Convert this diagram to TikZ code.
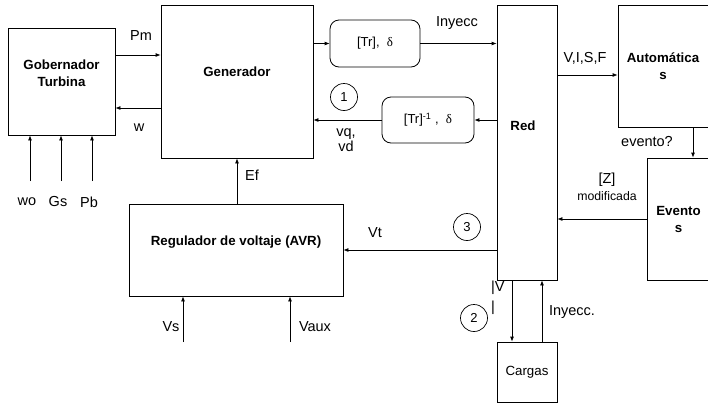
\documentclass[tikz,border=0pt]{standalone}
\usepackage{fontspec}
\setmainfont{Liberation Sans}
\newfontfamily\symbfont{Liberation Serif}
\usetikzlibrary{arrows.meta,positioning}

\tikzset{
  box/.style={draw, line width=0.8pt, inner sep=0pt},
  tbox/.style={draw, line width=0.8pt, rounded corners=9pt, inner sep=0pt},
  num/.style={draw, circle, line width=0.7pt, minimum size=27pt, inner sep=0pt,
    font=\fontsize{13}{15}\selectfont},
  arr/.style={-{Latex[length=5pt,width=4pt]}, line width=0.8pt},
  ttl/.style={font=\fontsize{13.3}{17}\selectfont\bfseries, align=center},
  lbl/.style={font=\fontsize{14.5}{15}\selectfont, inner sep=0pt, align=center}
}

\begin{document}
\begin{tikzpicture}[x=1pt, y=-1pt]
\clip (0,0) rectangle (708,405);

% bloques
\node[box, minimum width=107pt, minimum height=107pt,
  label={[ttl, yshift=8pt]center:{Gobernador\\Turbina}}] (gob) at (61.5,81.5) {};
\node[box, minimum width=152pt, minimum height=153pt,
  label={[ttl, yshift=10pt]center:Generador}] (gen) at (237,81.5) {};
\node[tbox, minimum width=90pt, minimum height=47pt,
  font=\fontsize{13}{15}\selectfont] (tr) at (375,43.5) {[Tr],~~{\symbfont δ}};
\node[tbox, minimum width=92pt, minimum height=46pt,
  font=\fontsize{13}{15}\selectfont] (tri) at (428,120) {[Tr]\textsuperscript{-1}~,~~{\symbfont δ}};
\node[box, minimum width=60pt, minimum height=275pt,
  label={[ttl, yshift=17pt, xshift=-4pt]center:Red}] (red) at (527,142.5) {};
\node[box, minimum width=94pt, minimum height=122pt,
  label={[ttl, xshift=-2pt]center:{Automática\\s}}] (aut) at (665,66) {};
\node[box, minimum width=65pt, minimum height=122pt,
  label={[ttl, xshift=-1pt]center:{Evento\\s}}] (ev) at (679.5,219) {};
\node[box, minimum width=214pt, minimum height=92pt,
  label={[ttl, yshift=8pt]center:Regulador de voltaje (AVR)}] (avr) at (236,250) {};
\node[box, minimum width=60pt, minimum height=60pt,
  font=\fontsize{13.3}{15}\selectfont] (car) at (527,372) {Cargas};

% numeros
\node[num] (n1) at (344,97) {1};
\node[num] (n3) at (467,227) {3};
\node[num] (n2) at (474,318) {2};

% entradas del gobernador
\foreach \x/\n/\t in {30/wo/wo, 61/gs/Gs, 92/pb/Pb}{
  \coordinate (\n) at (\x,181);
  \draw[arr] (\n) -- (\n |- gob.south);
  \node[lbl] at (\x-3,202) {\t};
}

% conexiones
\draw[arr] (gob.east |- 0,55) -- (gen.west |- 0,55);
\node[lbl] at (141,36) {Pm};
\draw[arr] (gen.west |- 0,108) -- (gob.east |- 0,108);
\node[lbl] at (139,128) {w};

\draw[arr] (gen.south |- avr.north) -- (gen.south);
\node[lbl] at (252,175) {Ef};

\draw[arr] (gen.east |- tr.west) -- (tr.west);
\draw[arr] (tr.east) -- (tr.east -| red.west);
\node[lbl] at (457,23) {Inyecc};

\draw[arr] (red.west |- tri.east) -- (tri.east);
\draw[arr] (tri.west) -- (tri.west -| gen.east);
\node[lbl] at (346,140) {vq,\\vd};

\draw[arr] (red.east |- 0,75) -- (aut.west |- 0,75);
\node[lbl] at (585,58) {V,I,S,F};

\draw[arr] (aut.south -| 693,0) -- (ev.north -| 693,0);
\node[lbl] at (647,142) {evento?};

\draw[arr] (ev.west |- 0,219) -- (red.east |- 0,219);
\node[lbl] at (607,180) {[Z]};
\node[font=\fontsize{12.3}{14}\selectfont, inner sep=0pt] at (607,196) {modificada};

\draw[arr] (red.west |- 0,250) -- (avr.east |- 0,250);
\node[lbl] at (375,233) {Vt};

\coordinate (vs) at (183,342);
\coordinate (vaux) at (290,342);
\draw[arr] (vs) -- (vs |- avr.south);
\draw[arr] (vaux) -- (vaux |- avr.south);
\node[lbl] at (171,327) {Vs};
\node[lbl] at (315,327) {Vaux};

\draw[arr] (red.south -| 512,0) -- (car.north -| 512,0);
\draw[arr] (car.north -| 542,0) -- (red.south -| 542,0);
\node[lbl, align=left, anchor=west, font=\fontsize{14.5}{20}\selectfont] at (491,298) {|V\\|};
\node[lbl] at (572,312) {Inyecc.};
\end{tikzpicture}
\end{document}
